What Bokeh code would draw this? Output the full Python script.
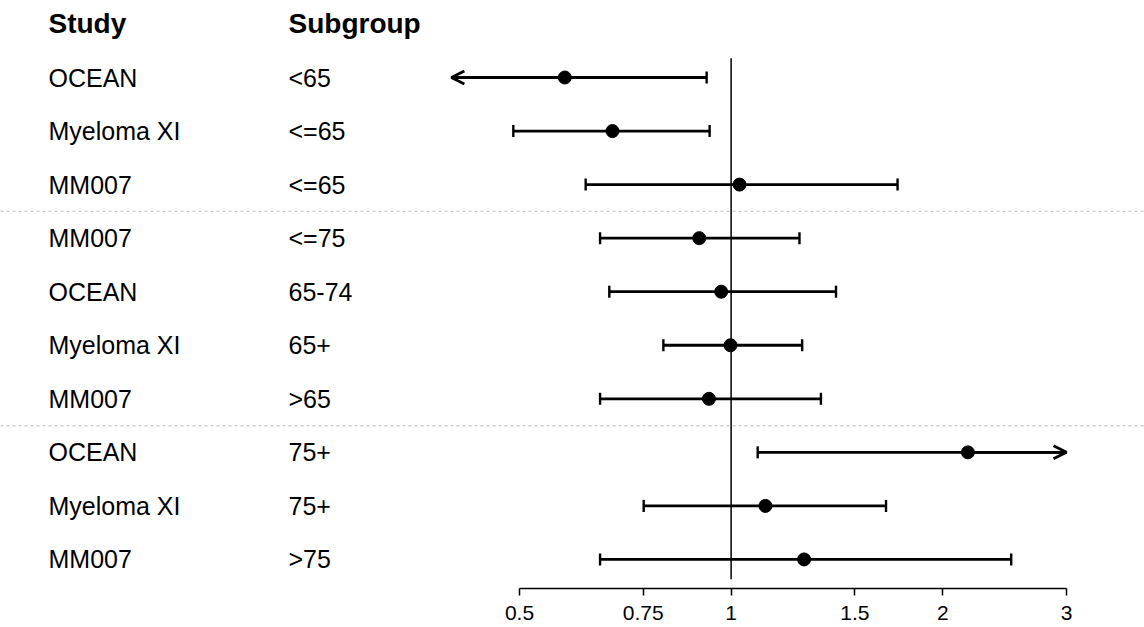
import numpy as np
from bokeh.plotting import figure
from bokeh.models import Range1d, FixedTicker, Span, Arrow, OpenHead, ColumnDataSource
from bokeh.core.properties import value
from bokeh.embed import file_html
from bokeh.resources import INLINE

# ---------------- data ----------------
study = ["OCEAN", "Myeloma XI", "MM007", "MM007", "OCEAN", "Myeloma XI",
         "MM007", "OCEAN", "Myeloma XI", "MM007"]
subgroup = ["<65", "<=65", "<=65", "<=75", "65-74", "65+", ">65", "75+", "75+", ">75"]
hr = [0.580, 0.678, 1.028, 0.901, 0.968, 0.998, 0.930, 2.172, 1.119, 1.270]
ci_lo = [0.370, 0.490, 0.621, 0.651, 0.671, 0.801, 0.651, 1.091, 0.751, 0.651]
ci_hi = [0.923, 0.932, 1.725, 1.251, 1.410, 1.262, 1.342, 3.600, 1.661, 2.503]
group_sizes = [3, 4, 3]
headers = ["Study", "Subgroup"]
ticks = [0.5, 0.75, 1, 1.5, 2, 3]
tick_labels = ["0.5", "0.75", "1", "1.5", "2", "3"]
clip_lo, clip_hi = 0.4, 3.0
ref_value = 1.0

# ---------------- layout ----------------
W, H = 1144, 627
AXIS_PANEL = 39
FONT = "Liberation Sans"
XPX_LO, XPX_HI = 519.0, 1066.0          # pixel positions of first / last tick
k = (XPX_HI - XPX_LO) / np.log(ticks[-1] / ticks[0])
x_start = ticks[0] * np.exp(-XPX_LO / k)
x_end = ticks[-1] * np.exp((W - XPX_HI) / k)

def px_to_x(px):
    return float(x_start * np.exp(px / k))

ROW0_PX, ROW_STEP = 77.0, 53.55
FRAME_H = H - AXIS_PANEL
y_top = -ROW0_PX / ROW_STEP
y_bot = (FRAME_H - ROW0_PX) / ROW_STEP

n = len(study)
rows = list(range(n))

p = figure(width=W, height=H, x_axis_type="log",
           x_range=Range1d(x_start, x_end), y_range=Range1d(y_bot, y_top),
           output_backend="svg", toolbar_location=None,
           y_axis_location=None, min_border_left=0, min_border_right=0,
           min_border_top=0, min_border_bottom=AXIS_PANEL)
p.outline_line_color = None
p.xgrid.visible = False
p.ygrid.visible = False
p.background_fill_color = "white"

# axis
ax = p.xaxis[0]
ax.ticker = FixedTicker(ticks=ticks, minor_ticks=[])
ax.major_label_overrides = {t: l for t, l in zip(ticks, tick_labels)}
ax.bounds = (ticks[0], ticks[-1])
ax.axis_line_color = "black"
ax.axis_line_width = 1.5
ax.major_tick_line_color = "black"
ax.major_tick_line_width = 1.5
ax.major_tick_in = 0
ax.major_tick_out = 7
ax.minor_tick_line_color = None
ax.major_label_standoff = 10
ax.major_label_text_font = FONT
ax.major_label_text_font_size = "21px"
ax.major_label_text_color = "black"

# group separators
bounds = np.cumsum(group_sizes)[:-1] - 0.5
for b in bounds:
    p.add_layout(Span(location=float(b), dimension="width", line_color="#c8c8c8",
                      line_dash="3 3", line_width=1.2))

# reference line
p.segment(x0=[ref_value], x1=[ref_value], y0=[-0.36], y1=[n - 1 + 0.37],
          line_color="black", line_width=1.5)

# CIs
lo_c = [max(v, clip_lo) for v in ci_lo]
hi_c = [min(v, clip_hi) for v in ci_hi]
p.segment(x0=lo_c, x1=hi_c, y0=rows, y1=rows, line_color="black", line_width=2.8)

cap_x, cap_y = [], []
for i in rows:
    if ci_lo[i] >= clip_lo:
        cap_x.append(ci_lo[i]); cap_y.append(i)
    else:
        p.add_layout(Arrow(end=OpenHead(size=13, line_width=2.8, line_color="black"),
                           x_start=hr[i], y_start=i, x_end=clip_lo, y_end=i,
                           line_width=2.8, line_color="black"))
    if ci_hi[i] <= clip_hi:
        cap_x.append(ci_hi[i]); cap_y.append(i)
    else:
        p.add_layout(Arrow(end=OpenHead(size=13, line_width=2.8, line_color="black"),
                           x_start=hr[i], y_start=i, x_end=clip_hi, y_end=i,
                           line_width=2.8, line_color="black"))
p.scatter(x=cap_x, y=cap_y, marker="dash", angle=np.pi / 2, size=12,
          line_color="black", line_width=2.4)

# points
p.scatter(x=hr, y=rows, marker="circle", size=13, fill_color="black", line_color="black")

# text columns
col_px = [48.0, 288.0]
src = ColumnDataSource(dict(x=[px_to_x(col_px[0])] * n, y=rows, t=study))
p.text(x="x", y="y", text="t", source=src, text_font=value(FONT),
       text_font_size="25px", text_baseline="middle", text_align="left", text_color="black")
src2 = ColumnDataSource(dict(x=[px_to_x(col_px[1])] * n, y=rows, t=subgroup))
p.text(x="x", y="y", text="t", source=src2, text_font=value(FONT),
       text_font_size="25px", text_baseline="middle", text_align="left", text_color="black")
p.text(x=[px_to_x(c) for c in col_px], y=[-1, -1], text=headers, text_font=value(FONT),
       text_font_size="28px", text_font_style="bold", text_baseline="middle",
       text_align="left", text_color="black")

open("out.html", "w").write(file_html(p, INLINE))
